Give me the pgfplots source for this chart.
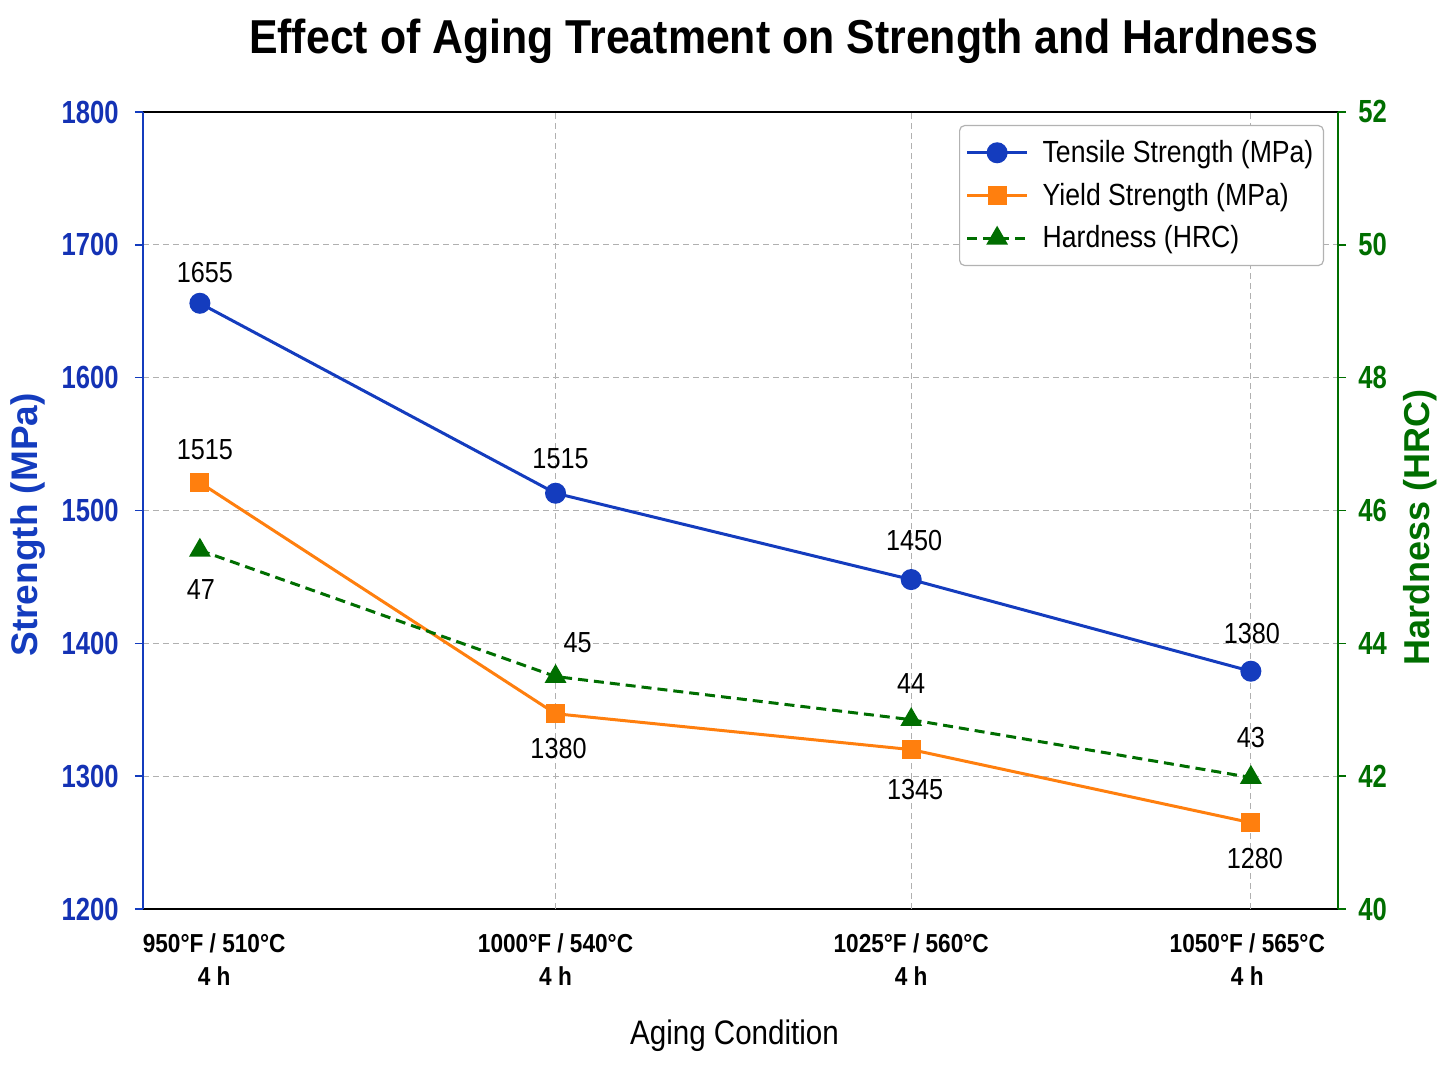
\documentclass[border=0pt]{standalone}
\usepackage{fontspec}
\setmainfont{Liberation Sans}[FakeStretch=0.87]
\newfontfamily\titlefont{Liberation Sans}[FakeStretch=0.9]
\newfontfamily\tickfont{Liberation Sans}[FakeStretch=0.8]
\newfontfamily\ylabfont{Liberation Sans}
\usepackage{pgfplots}
\pgfplotsset{compat=1.18}
\usepackage{pgfplotstable}
\definecolor{tblue}{RGB}{20,60,190}
\definecolor{tickblue}{RGB}{20,50,180}
\definecolor{torange}{RGB}{255,127,14}
\definecolor{tgreen}{RGB}{0,110,0}
\definecolor{gridgray}{RGB}{176,176,176}

\pgfplotstableread{
x y lab dx dy
0 1656 1655 2.5 15.5
1 1513 1515 2.5 17.5
2 1448 1450 1.5 19.5
2.955 1379 1380 0.5 19
}\tensile
\pgfplotstableread{
x y lab dx dy
0 1521 1515 2.5 16.5
1 1347 1380 1.5 -17.5
2 1320 1345 2 -20
2.955 1265 1280 2 -18
}\yieldt
\pgfplotstableread{
x y lab dx dy
0 45.4 47 0.5 -19.5
1 43.5 45 11 17
2 42.85 44 0 18
2.955 41.98 43 0 20
}\hard

\pgfplotsset{
  common/.style={
    scale only axis, width=597.5pt, height=398.5pt,
    at={(71.5pt,88.5pt)}, anchor=south west,
    xmin=-0.16, xmax=3.2,
    tick align=outside, major tick length=4pt,
    /pgf/number format/assume math mode=true,
    /pgf/number format/1000 sep={},
  },
  lab/.style={
    nodes near coords, point meta=explicit symbolic,
    visualization depends on={\thisrow{dx} \as \dx},
    visualization depends on={\thisrow{dy} \as \dy},
    every node near coord/.append style={anchor=center, xshift=\dx pt, yshift=\dy pt,
      font=\fontsize{14.5}{17}\selectfont, text=black},
  },
  legend image code/.code={
    \draw[mark repeat=2,mark phase=2,#1] plot coordinates {(0pt,0pt) (15pt,0pt) (30pt,0pt)};
  },
}

\begin{document}
\begin{tikzpicture}
\useasboundingbox (0,0) rectangle (724pt,543pt);
\begin{axis}[common,
  axis y line*=left,
  ymin=1200, ymax=1800, ytick={1200,1300,...,1800},
  y axis line style={draw=tblue, line width=1pt},
  x axis line style={draw=black, line width=1pt},
  ytick style={draw=tblue, line width=0.8pt},
  yticklabel style={font=\tickfont\bfseries\fontsize{16}{16}\selectfont, text=tickblue, inner sep=0pt, xshift=-8pt},
  xtick={0.04,1,2,2.945},
  xticklabels={{950°F / 510°C\\4 h},{1000°F / 540°C\\4 h},{1025°F / 560°C\\4 h},{1050°F / 565°C\\4 h}},
  xticklabel style={font=\bfseries\fontsize{13}{16.5}\selectfont, align=center, inner sep=0pt, yshift=-8pt},
  xtick style={draw=none},
  extra x ticks={1,2,2.955},
  extra x tick labels={},
  extra x tick style={xmajorgrids=true, xtick style={draw=none}},
  ymajorgrids=true,
  grid style={gridgray, dash pattern=on 3pt off 2pt, line width=0.5pt},
  title={Effect of Aging Treatment on Strength and Hardness},
  title style={font=\titlefont\bfseries\fontsize{23.8}{28}\selectfont, at={([yshift=29.5pt]axis description cs:0.536,1)}, anchor=center},
  xlabel={Aging Condition},
  xlabel style={font=\fontsize{17}{20}\selectfont, at={([yshift=-63.5pt]axis description cs:0.495,0)}, anchor=center},
  ylabel={Strength (MPa)},
  ylabel style={font=\ylabfont\bfseries\fontsize{18.5}{20}\selectfont, text=tblue, at={([xshift=-57.5pt]axis description cs:0,0.482)}, anchor=center, rotate=0},
]
\addplot[tblue, line width=1.5pt, mark=*, mark size=4.5pt, mark options={solid, fill=tblue}, lab]
  table[x=x, y=y, meta=lab] {\tensile};
\addplot[torange, line width=1.5pt, mark=square*, mark size=4pt, mark options={solid, fill=torange}, lab]
  table[x=x, y=y, meta=lab] {\yieldt};
\end{axis}
\begin{axis}[common,
  axis y line*=right, axis x line=none,
  ymin=40, ymax=52, ytick={40,42,...,52},
  y axis line style={draw=tgreen, line width=1pt},
  ytick style={draw=tgreen, line width=0.8pt},
  yticklabel style={font=\tickfont\bfseries\fontsize{16}{16}\selectfont, text=tgreen, inner sep=0pt, xshift=6pt},
  ylabel={Hardness (HRC)},
  ylabel style={font=\ylabfont\bfseries\fontsize{18}{20}\selectfont, text=tgreen, at={([xshift=41pt]axis description cs:1,0.479)}, anchor=center, rotate=0},
  legend style={at={([xshift=-7pt,yshift=-6.5pt]axis description cs:1,1)}, anchor=north east,
    draw=gray!60, rounded corners=2.5pt, fill=white, line width=0.6pt,
    font=\fontsize{15.3}{18}\selectfont, inner xsep=3pt, inner ysep=5.3pt, row sep=4.8pt,
    /tikz/every odd column/.append style={column sep=5pt}},
  legend cell align=left,
]
\addlegendimage{tblue, line width=1.5pt, mark=*, mark size=4.5pt, mark options={solid, fill=tblue}}
\addlegendentry{Tensile Strength (MPa)}
\addlegendimage{torange, line width=1.5pt, mark=square*, mark size=4pt, mark options={solid, fill=torange}}
\addlegendentry{Yield Strength (MPa)}
\addplot[tgreen, line width=1.5pt, dash pattern=on 5pt off 3pt, mark=triangle*, mark size=4.8pt, mark options={solid, fill=tgreen}, lab]
  table[x=x, y=y, meta=lab] {\hard};
\addlegendentry{Hardness (HRC)}
\end{axis}
\end{tikzpicture}
\end{document}
